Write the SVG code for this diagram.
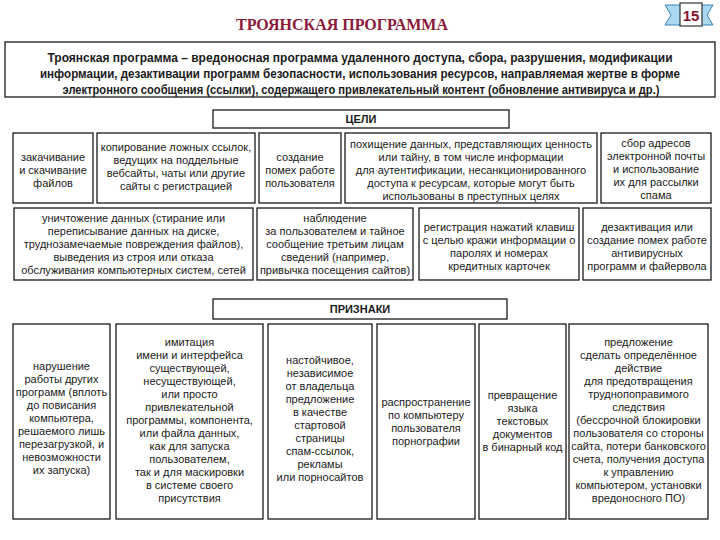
<svg xmlns="http://www.w3.org/2000/svg" width="720" height="540" viewBox="0 0 720 540">
<style>
.box{fill:#fff;stroke:#1a1a1a;stroke-width:1.3}
.t{font-family:"Liberation Sans",Arial,sans-serif;font-size:11px;fill:#1a1a1a;text-anchor:middle}
.hdr{font-family:"Liberation Sans",Arial,sans-serif;font-size:11px;font-weight:bold;fill:#1a1a1a;text-anchor:middle}
.intro{font-family:"Liberation Sans",Arial,sans-serif;font-size:12px;font-weight:bold;fill:#1a1a1a;text-anchor:middle}
.title{font-family:"Liberation Serif","Times New Roman",serif;font-size:16px;font-weight:bold;fill:#8b1a3c;text-anchor:middle}
.rib{fill:#aad8f0;stroke:#3b82b5;stroke-width:1}
</style>
<rect width="720" height="540" fill="#fff"/>
<g id="title"><text class="title" x="342" y="30">ТРОЯНСКАЯ ПРОГРАММА</text></g>
<g id="badge">
<polygon class="rib" points="665,5 684,5 684,25 665,25 671,15"/>
<polygon class="rib" points="713,5 698,5 698,25 713,25 707,15"/>
<rect x="680" y="3" width="22" height="23" fill="#fff" stroke="#333" stroke-width="1.2"/>
<text x="691" y="21" font-family="Liberation Sans,Arial,sans-serif" font-size="15" font-weight="bold" fill="#8b1030" text-anchor="middle">15</text>
</g>
<g id="intro">
<rect class="box" x="5" y="42" width="710" height="55"/>
<text class="intro" x="360" y="62" textLength="625" lengthAdjust="spacingAndGlyphs">Троянская программа – вредоносная программа удаленного доступа, сбора, разрушения, модификации</text>
<text class="intro" x="360" y="78" textLength="640" lengthAdjust="spacingAndGlyphs">информации, дезактивации программ безопасности, использования ресурсов, направляемая жертве в форме</text>
<text class="intro" x="361" y="94" textLength="597" lengthAdjust="spacingAndGlyphs">электронного сообщения (ссылки), содержащего привлекательный контент (обновление антивируса и др.)</text>
</g>
<g id="goals-header"><rect class="box" x="213" y="110" width="296" height="18"/><text class="hdr" x="361" y="123">ЦЕЛИ</text></g>
<g id="g1"><rect class="box" x="13" y="133" width="80" height="70"/>
<text class="t" x="53" y="161">закачивание</text><text class="t" x="53" y="174">и скачивание</text><text class="t" x="53" y="187">файлов</text></g>
<g id="g2"><rect class="box" x="97" y="133" width="158" height="70"/>
<text class="t" x="176" y="151">копирование ложных ссылок,</text><text class="t" x="176" y="164">ведущих на поддельные</text><text class="t" x="176" y="177">вебсайты, чаты или другие</text><text class="t" x="176" y="190">сайты с регистрацией</text></g>
<g id="g3"><rect class="box" x="259" y="133" width="82" height="70"/>
<text class="t" x="300" y="161">создание</text><text class="t" x="300" y="174">помех работе</text><text class="t" x="300" y="187">пользователя</text></g>
<g id="g4"><rect class="box" x="345" y="133" width="252" height="70"/>
<text class="t" x="471" y="148">похищение данных, представляющих ценность</text><text class="t" x="471" y="161">или тайну, в том числе информации</text><text class="t" x="471" y="174">для аутентификации, несанкционированного</text><text class="t" x="471" y="187">доступа к ресурсам, которые могут быть</text><text class="t" x="471" y="200">использованы в преступных целях</text></g>
<g id="g5"><rect class="box" x="601" y="133" width="110" height="70"/>
<text class="t" x="656" y="147">сбор адресов</text><text class="t" x="656" y="160">электронной почты</text><text class="t" x="656" y="173">и использование</text><text class="t" x="656" y="186">их для рассылки</text><text class="t" x="656" y="199">спама</text></g>
<g id="g6"><rect class="box" x="14" y="208" width="239" height="72"/>
<text class="t" x="133.5" y="222">уничтожение данных (стирание или</text><text class="t" x="133.5" y="235">переписывание данных на диске,</text><text class="t" x="133.5" y="248">труднозамечаемые повреждения файлов),</text><text class="t" x="133.5" y="261">выведения из строя или отказа</text><text class="t" x="133.5" y="274">обслуживания компьютерных систем, сетей</text></g>
<g id="g7"><rect class="box" x="257" y="208" width="156" height="72"/>
<text class="t" x="335" y="222">наблюдение</text><text class="t" x="335" y="235">за пользователем и тайное</text><text class="t" x="335" y="248">сообщение третьим лицам</text><text class="t" x="335" y="261">сведений (например,</text><text class="t" x="335" y="274">привычка посещения сайтов)</text></g>
<g id="g8"><rect class="box" x="419" y="208" width="160" height="72"/>
<text class="t" x="499" y="231">регистрация нажатий клавиш</text><text class="t" x="499" y="244">с целью кражи информации о</text><text class="t" x="499" y="257">паролях и номерах</text><text class="t" x="499" y="270">кредитных карточек</text></g>
<g id="g9"><rect class="box" x="583" y="208" width="128" height="72"/>
<text class="t" x="647" y="231">дезактивация или</text><text class="t" x="647" y="244">создание помех работе</text><text class="t" x="647" y="257">антивирусных</text><text class="t" x="647" y="270">программ и файервола</text></g>
<g id="signs-header"><rect class="box" x="213" y="299" width="294" height="20"/><text class="hdr" x="360" y="313">ПРИЗНАКИ</text></g>
<g id="s1"><rect class="box" x="13" y="324" width="97" height="195"/>
<text class="t" x="61.5" y="370">нарушение</text><text class="t" x="61.5" y="383">работы других</text><text class="t" x="61.5" y="396">программ (вплоть</text><text class="t" x="61.5" y="409">до повисания</text><text class="t" x="61.5" y="422">компьютера,</text><text class="t" x="61.5" y="435">решаемого лишь</text><text class="t" x="61.5" y="448">перезагрузкой, и</text><text class="t" x="61.5" y="461">невозможности</text><text class="t" x="61.5" y="474">их запуска)</text></g>
<g id="s2"><rect class="box" x="116" y="324" width="147" height="195"/>
<text class="t" x="189.5" y="346">имитация</text><text class="t" x="189.5" y="359">имени и интерфейса</text><text class="t" x="189.5" y="372">существующей,</text><text class="t" x="189.5" y="385">несуществующей,</text><text class="t" x="189.5" y="398">или просто</text><text class="t" x="189.5" y="411">привлекательной</text><text class="t" x="189.5" y="424">программы, компонента,</text><text class="t" x="189.5" y="437">или файла данных,</text><text class="t" x="189.5" y="450">как для запуска</text><text class="t" x="189.5" y="463">пользователем,</text><text class="t" x="189.5" y="476">так и для маскировки</text><text class="t" x="189.5" y="489">в системе своего</text><text class="t" x="189.5" y="502">присутствия</text></g>
<g id="s3"><rect class="box" x="268" y="324" width="104" height="195"/>
<text class="t" x="320" y="364">настойчивое,</text><text class="t" x="320" y="377">независимое</text><text class="t" x="320" y="390">от владельца</text><text class="t" x="320" y="403">предложение</text><text class="t" x="320" y="416">в качестве</text><text class="t" x="320" y="429">стартовой</text><text class="t" x="320" y="442">страницы</text><text class="t" x="320" y="455">спам-ссылок,</text><text class="t" x="320" y="468">рекламы</text><text class="t" x="320" y="481">или порносайтов</text></g>
<g id="s4"><rect class="box" x="377" y="324" width="98" height="195"/>
<text class="t" x="426" y="406">распространение</text><text class="t" x="426" y="419">по компьютеру</text><text class="t" x="426" y="432">пользователя</text><text class="t" x="426" y="445">порнографии</text></g>
<g id="s5"><rect class="box" x="479" y="324" width="87" height="195"/>
<text class="t" x="522.5" y="399">превращение</text><text class="t" x="522.5" y="412">языка</text><text class="t" x="522.5" y="425">текстовых</text><text class="t" x="522.5" y="438">документов</text><text class="t" x="522.5" y="451">в бинарный код</text></g>
<g id="s6"><rect class="box" x="569" y="324" width="139" height="195"/>
<text class="t" x="638.5" y="346">предложение</text><text class="t" x="638.5" y="359">сделать определённое</text><text class="t" x="638.5" y="372">действие</text><text class="t" x="638.5" y="385">для предотвращения</text><text class="t" x="638.5" y="398">труднопоправимого</text><text class="t" x="638.5" y="411">следствия</text><text class="t" x="638.5" y="424">(бессрочной блокировки</text><text class="t" x="638.5" y="437">пользователя со стороны</text><text class="t" x="638.5" y="450">сайта, потери банковского</text><text class="t" x="638.5" y="463">счета, получения доступа</text><text class="t" x="638.5" y="476">к управлению</text><text class="t" x="638.5" y="489">компьютером, установки</text><text class="t" x="638.5" y="502">вредоносного ПО)</text></g>
<g id="connectors"></g>
</svg>
